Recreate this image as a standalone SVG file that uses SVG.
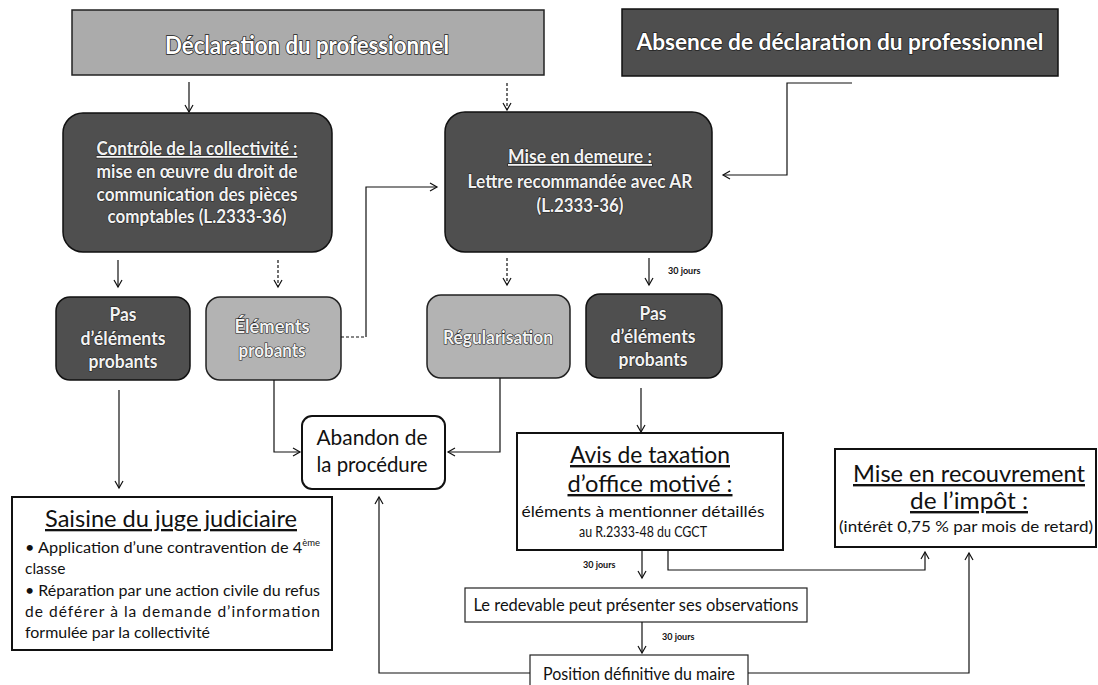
<svg xmlns="http://www.w3.org/2000/svg" width="1098" height="685" viewBox="0 0 1098 685">
<defs>
<marker id="ah" markerWidth="12" markerHeight="12" refX="10" refY="6" orient="auto" markerUnits="userSpaceOnUse">
<path d="M3,2 L10,6 L3,10" fill="none" stroke="#111" stroke-width="1.2"/>
</marker>
<style>
.banner-l{fill:#ababab;stroke:#222;stroke-width:1.5}
.banner-d{fill:#4e4e4e;stroke:#111;stroke-width:1.5}
.dark{fill:#4f4f4f;stroke:#111;stroke-width:1.5}
.light{fill:#b3b3b3;stroke:#222;stroke-width:1.5}
.white{fill:#fff;stroke:#111;stroke-width:2}
.thin{fill:#fff;stroke:#222;stroke-width:1.2}
.bt{font-family:Lato,"Liberation Sans",sans-serif;font-weight:bold;fill:#fff;stroke:#222;stroke-width:1.6;paint-order:stroke;text-anchor:middle}
.bx{font-family:Lato,"Liberation Sans",sans-serif;font-weight:bold;fill:#f2f2f2;stroke:#222;stroke-width:1.2;paint-order:stroke;text-anchor:middle;font-size:18px}
.t{font-family:Lato,"Liberation Sans",sans-serif;fill:#111;text-anchor:middle}
.l{font-family:Lato,"Liberation Sans",sans-serif;fill:#111}
.j{font-family:Lato,"Liberation Sans",sans-serif;font-weight:bold;fill:#111;font-size:9px}
.u{text-decoration:underline}
.c{fill:none;stroke:#111;stroke-width:1.2}
.d{stroke-dasharray:3,2}
</style>
</defs>

<g id="declaration">
<rect class="banner-l" x="72" y="10" width="472" height="65"/>
<text class="bt" x="307" y="54" font-size="24" textLength="284" lengthAdjust="spacingAndGlyphs">Déclaration du professionnel</text>
</g>

<g id="absence">
<rect class="banner-d" x="622" y="9" width="436" height="67"/>
<text class="bt" x="840" y="50" font-size="23" textLength="407" lengthAdjust="spacingAndGlyphs">Absence de déclaration du professionnel</text>
</g>

<g id="controle">
<rect class="dark" x="63" y="113" width="269" height="139" rx="20"/>
<text class="bx u" x="197" y="155" textLength="201" lengthAdjust="spacingAndGlyphs">Contrôle de la collectivité :</text>
<text class="bx" x="197" y="178" textLength="201" lengthAdjust="spacingAndGlyphs">mise en œuvre du droit de</text>
<text class="bx" x="197" y="201" textLength="201" lengthAdjust="spacingAndGlyphs">communication des pièces</text>
<text class="bx" x="197" y="223" textLength="179" lengthAdjust="spacingAndGlyphs">comptables (L.2333-36)</text>
</g>

<g id="miseendemeure">
<rect class="dark" x="445" y="112" width="267" height="140" rx="20"/>
<text class="bx u" x="580" y="163" textLength="144" lengthAdjust="spacingAndGlyphs">Mise en demeure :</text>
<text class="bx" x="580" y="188" textLength="225" lengthAdjust="spacingAndGlyphs">Lettre recommandée avec AR</text>
<text class="bx" x="580" y="212" textLength="87" lengthAdjust="spacingAndGlyphs">(L.2333-36)</text>
</g>

<g id="pas1">
<rect class="dark" x="56" y="297" width="134" height="83" rx="14"/>
<text class="bx" x="123" y="321" textLength="27" lengthAdjust="spacingAndGlyphs">Pas</text>
<text class="bx" x="123" y="345" textLength="85" lengthAdjust="spacingAndGlyphs">d’éléments</text>
<text class="bx" x="123" y="368" textLength="69" lengthAdjust="spacingAndGlyphs">probants</text>
</g>

<g id="elements">
<rect class="light" x="206" y="297" width="135" height="83" rx="14"/>
<text class="bx" x="272" y="333" textLength="75" lengthAdjust="spacingAndGlyphs">Éléments</text>
<text class="bx" x="272" y="357" textLength="67" lengthAdjust="spacingAndGlyphs">probants</text>
</g>

<g id="regularisation">
<rect class="light" x="427" y="295" width="143" height="83" rx="14"/>
<text class="bx" x="498" y="344" textLength="110" lengthAdjust="spacingAndGlyphs">Régularisation</text>
</g>

<g id="pas2">
<rect class="dark" x="586" y="294" width="136" height="84" rx="14"/>
<text class="bx" x="653" y="320" textLength="27" lengthAdjust="spacingAndGlyphs">Pas</text>
<text class="bx" x="653" y="343" textLength="85" lengthAdjust="spacingAndGlyphs">d’éléments</text>
<text class="bx" x="653" y="366" textLength="69" lengthAdjust="spacingAndGlyphs">probants</text>
</g>

<g id="abandon">
<rect class="white" x="302" y="416" width="143" height="73" rx="10"/>
<text class="t" x="372" y="445" font-size="21" textLength="111" lengthAdjust="spacingAndGlyphs">Abandon de</text>
<text class="t" x="372" y="472" font-size="21" textLength="111" lengthAdjust="spacingAndGlyphs">la procédure</text>
</g>

<g id="saisine">
<rect class="white" x="12" y="497" width="320" height="153"/>
<text class="t u" x="171" y="527" font-size="23" textLength="252" lengthAdjust="spacingAndGlyphs">Saisine du juge judiciaire</text>
<text class="l" x="25" y="553" font-size="15.5" textLength="295" lengthAdjust="spacingAndGlyphs">• Application d’une contravention de 4<tspan font-size="9" dy="-7">ème</tspan></text>
<text class="l" x="25" y="574" font-size="15.5">classe</text>
<text class="l" x="25" y="596" font-size="15.5" textLength="295" lengthAdjust="spacingAndGlyphs">• Réparation par une action civile du refus</text>
<text class="l" x="25" y="617" font-size="15.5" textLength="295" lengthAdjust="spacing">de déférer à la demande d’information</text>
<text class="l" x="25" y="638" font-size="15.5" textLength="185" lengthAdjust="spacingAndGlyphs">formulée par la collectivité</text>
</g>

<g id="avis">
<rect class="white" x="517" y="433" width="266" height="117"/>
<text class="t u" x="650" y="463" font-size="24" textLength="160" lengthAdjust="spacingAndGlyphs">Avis de taxation</text>
<text class="t u" x="650" y="492" font-size="24" textLength="165" lengthAdjust="spacingAndGlyphs">d’office motivé :</text>
<text class="t" x="643" y="517" font-size="15" textLength="243" lengthAdjust="spacingAndGlyphs">éléments à mentionner détaillés</text>
<text class="t" x="643" y="537" font-size="14.5" textLength="128" lengthAdjust="spacingAndGlyphs">au R.2333-48 du CGCT</text>
</g>

<g id="recouvrement">
<rect class="white" x="835" y="449" width="261" height="98"/>
<text class="t u" x="969" y="482" font-size="24" textLength="232" lengthAdjust="spacingAndGlyphs">Mise en recouvrement</text>
<text class="t u" x="969" y="509" font-size="24" textLength="118" lengthAdjust="spacingAndGlyphs">de l’impôt  :</text>
<text class="t" x="966" y="532" font-size="15" textLength="254" lengthAdjust="spacingAndGlyphs">(intérêt 0,75 % par mois de retard)</text>
</g>

<g id="redevable">
<rect class="thin" x="465" y="588" width="342" height="34"/>
<text class="t" x="636" y="611" font-size="17" textLength="325" lengthAdjust="spacingAndGlyphs">Le redevable peut présenter ses observations</text>
</g>

<g id="position">
<rect class="thin" x="530" y="655" width="218" height="40"/>
<text class="t" x="639" y="680" font-size="17" textLength="192" lengthAdjust="spacingAndGlyphs">Position définitive du maire</text>
</g>

<g id="connectors">
<path class="c" d="M189,82 V112" marker-end="url(#ah)"/>
<path class="c d" d="M507,83 V110" marker-end="url(#ah)"/>
<path class="c" d="M852,83 H787 V175 H723" marker-end="url(#ah)"/>
<path class="c" d="M118,260 V287" marker-end="url(#ah)"/>
<path class="c d" d="M278,260 V287" marker-end="url(#ah)"/>
<path class="c d" d="M341,337 H366"/>
<path class="c" d="M366,337 V187 H437" marker-end="url(#ah)"/>
<path class="c d" d="M507,258 V285" marker-end="url(#ah)"/>
<path class="c" d="M649,258 V285" marker-end="url(#ah)"/>
<path class="c" d="M119,390 V488" marker-end="url(#ah)"/>
<path class="c" d="M274,380 V452 H300" marker-end="url(#ah)"/>
<path class="c" d="M500,378 V452 H448" marker-end="url(#ah)"/>
<path class="c" d="M641,388 V432" marker-end="url(#ah)"/>
<path class="c" d="M642,550 V578" marker-end="url(#ah)"/>
<path class="c" d="M668,550 V570 H925 V552" marker-end="url(#ah)"/>
<path class="c" d="M642,622 V653" marker-end="url(#ah)"/>
<path class="c" d="M530,673 H379 V497" marker-end="url(#ah)"/>
<path class="c" d="M748,673 H969 V553" marker-end="url(#ah)"/>
<text class="j" x="668" y="274">30 jours</text>
<text class="j" x="583" y="568">30 jours</text>
<text class="j" x="662" y="640">30 jours</text>
</g>
</svg>
